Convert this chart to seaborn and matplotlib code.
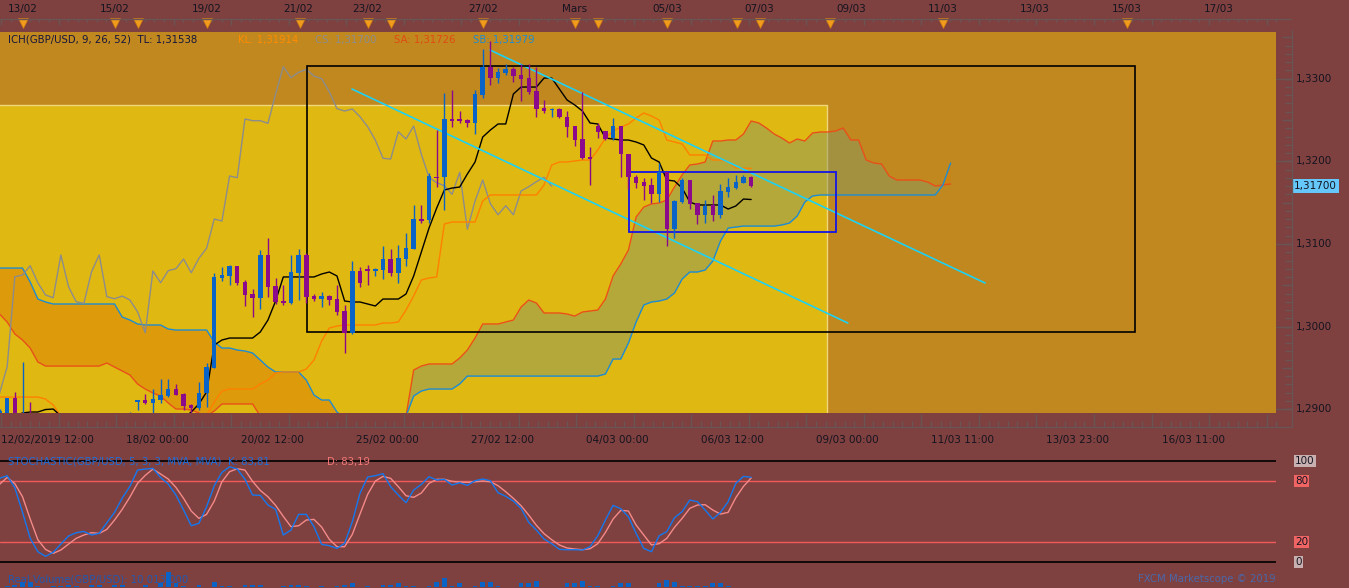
import numpy as np
import matplotlib
matplotlib.use('Agg')
import matplotlib.pyplot as plt
from matplotlib.lines import Line2D
from matplotlib.patches import Rectangle
from matplotlib.transforms import Affine2D, blended_transform_factory
import seaborn as sns

# ---------------- data (GBP/USD, 4h bars) ----------------
opens = [1.2880, 1.2890, 1.29133, 1.2886, 1.2892, 1.2884, 1.2872, 1.2866, 1.2870, 1.2874,
         1.2879, 1.2881, 1.2877, 1.2880, 1.2884, 1.2887, 1.2889, 1.2886, 1.29084, 1.29112,
         1.29072, 1.29112, 1.29164, 1.29245, 1.29185, 1.29055, 1.29019, 1.29193, 1.29503, 1.30592,
         1.30616, 1.30733, 1.30543, 1.30395, 1.30350, 1.30867, 1.30491, 1.30314, 1.30282, 1.30652,
         1.30867, 1.30370, 1.30338, 1.30370, 1.30331, 1.30189, 1.29919, 1.30673, 1.30701, 1.30677,
         1.30685, 1.30818, 1.30652, 1.30818, 1.30939, 1.31302, 1.31290, 1.31814, 1.31807, 1.32516,
         1.32516, 1.32500, 1.32460, 1.32803, 1.33145, 1.33012, 1.33065, 1.33113, 1.33045, 1.33005,
         1.32855, 1.32642, 1.32617, 1.32629, 1.32540, 1.32427, 1.32267, 1.32049, 1.32427, 1.32367,
         1.32286, 1.32427, 1.32085, 1.31810, 1.31750, 1.31714, 1.31601, 1.31867, 1.31178, 1.31511,
         1.31774, 1.31492, 1.31354, 1.31472, 1.31354, 1.31633, 1.31674, 1.31741, 1.31807]
highs = [1.2900, 1.2914, 1.29205, 1.29572, 1.29084, 1.2889, 1.2878, 1.2875, 1.2879, 1.2884,
         1.2886, 1.2885, 1.2884, 1.2888, 1.2891, 1.2893, 1.2892, 1.28965, 1.29112, 1.29181,
         1.29241, 1.29366, 1.29366, 1.29306, 1.29193, 1.29060, 1.29326, 1.29556, 1.30645, 1.30718,
         1.30749, 1.30733, 1.30564, 1.30455, 1.30927, 1.31069, 1.30585, 1.30504, 1.30867, 1.30935,
         1.30891, 1.30395, 1.30419, 1.30383, 1.30504, 1.30262, 1.30794, 1.30718, 1.30746, 1.30710,
         1.30975, 1.30939, 1.30987, 1.31136, 1.31472, 1.31472, 1.31860, 1.32379, 1.32823, 1.32863,
         1.32609, 1.32508, 1.32863, 1.33356, 1.33456, 1.33126, 1.33178, 1.33145, 1.33178, 1.33178,
         1.33145, 1.32742, 1.32642, 1.32640, 1.32609, 1.32430, 1.32836, 1.32170, 1.32460, 1.32370,
         1.32520, 1.32430, 1.32090, 1.31835, 1.31795, 1.31795, 1.31976, 1.31870, 1.31530, 1.31795,
         1.31780, 1.31500, 1.31532, 1.31593, 1.31726, 1.31795, 1.31835, 1.31835, 1.31820]
lows = [1.2875, 1.2886, 1.2884, 1.2880, 1.2878, 1.2868, 1.2860, 1.2862, 1.2866, 1.2870,
        1.2875, 1.2873, 1.2874, 1.2876, 1.2880, 1.2883, 1.2881, 1.2882, 1.28991, 1.29065,
        1.28930, 1.29079, 1.29152, 1.29170, 1.28991, 1.28930, 1.28991, 1.29031, 1.29496, 1.30556,
        1.30504, 1.30504, 1.30250, 1.30120, 1.30209, 1.30362, 1.30274, 1.30262, 1.30274, 1.30322,
        1.30282, 1.30314, 1.30240, 1.30262, 1.30140, 1.29684, 1.29907, 1.30476, 1.30504, 1.30616,
        1.30576, 1.30616, 1.30524, 1.30737, 1.30935, 1.31250, 1.31254, 1.31693, 1.31411, 1.32419,
        1.32467, 1.32412, 1.32331, 1.32763, 1.32924, 1.32951, 1.33045, 1.32963, 1.32730, 1.32810,
        1.32540, 1.32581, 1.32533, 1.32530, 1.32298, 1.32185, 1.32030, 1.31714, 1.32286, 1.32260,
        1.32258, 1.31807, 1.31662, 1.31674, 1.31532, 1.31492, 1.31511, 1.30979, 1.31069, 1.31492,
        1.31420, 1.31242, 1.31257, 1.31278, 1.31318, 1.31572, 1.31670, 1.31740, 1.31690]
closes = [1.2898, 1.29133, 1.2890, 1.2890, 1.2884, 1.2872, 1.2866, 1.2870, 1.2874, 1.2879,
          1.2881, 1.2877, 1.2880, 1.2884, 1.2887, 1.2889, 1.2886, 1.2893, 1.29112, 1.29072,
          1.29124, 1.29172, 1.29245, 1.29176, 1.29043, 1.29015, 1.29193, 1.29515, 1.30604, 1.30624,
          1.30737, 1.30531, 1.30383, 1.30350, 1.30867, 1.30483, 1.30301, 1.30282, 1.30664, 1.30867,
          1.30362, 1.30338, 1.30370, 1.30322, 1.30180, 1.29926, 1.30673, 1.30531, 1.30677, 1.30701,
          1.30818, 1.30652, 1.30827, 1.30948, 1.31302, 1.31278, 1.31823, 1.31802, 1.32512, 1.32492,
          1.32492, 1.32460, 1.32815, 1.33145, 1.33012, 1.33077, 1.33113, 1.33032, 1.33000, 1.32842,
          1.32637, 1.32609, 1.32633, 1.32540, 1.32419, 1.32258, 1.32037, 1.32028, 1.32358, 1.32270,
          1.32427, 1.32085, 1.31807, 1.31741, 1.31705, 1.31601, 1.31867, 1.31178, 1.31520, 1.31774,
          1.31487, 1.31354, 1.31463, 1.31354, 1.31641, 1.31693, 1.31754, 1.31807, 1.31700]

tenkan = [1.28870, 1.28894, 1.28918, 1.28955, 1.28967, 1.28967, 1.28997, 1.29003, 1.28918, 1.28870,
          1.28870, 1.28870, 1.28870, 1.28870, 1.28870, 1.28870, 1.28870, 1.28870, 1.28870, 1.28870,
          1.28870, 1.28870, 1.28870, 1.28870, 1.28894, 1.28967, 1.29064, 1.29209, 1.29777, 1.29838,
          1.29862, 1.29862, 1.29862, 1.29862, 1.29935, 1.30080, 1.30310, 1.30601, 1.30601, 1.30601,
          1.30601, 1.30601, 1.30637, 1.30661, 1.30613, 1.30310, 1.30298, 1.30298, 1.30274, 1.30250,
          1.30334, 1.30334, 1.30334, 1.30395, 1.30613, 1.30903, 1.31193, 1.31435, 1.31653, 1.31677,
          1.31689, 1.31847, 1.31992, 1.32294, 1.32379, 1.32452, 1.32452, 1.32815, 1.32899, 1.32899,
          1.32899, 1.33008, 1.33008, 1.32875, 1.32742, 1.32682, 1.32609, 1.32464, 1.32452, 1.32282,
          1.32270, 1.32258, 1.32258, 1.32234, 1.32198, 1.32040, 1.31992, 1.31774, 1.31762, 1.31677,
          1.31508, 1.31472, 1.31472, 1.31472, 1.31472, 1.31423, 1.31460, 1.31544, 1.31538]
kijun = [1.29148, 1.29148, 1.29148, 1.29148, 1.29148, 1.29148, 1.29124, 1.29052, 1.28918, 1.28870,
         1.28870, 1.28870, 1.28870, 1.28870, 1.28870, 1.28870, 1.28870, 1.28870, 1.28870, 1.28870,
         1.28870, 1.28870, 1.28870, 1.28870, 1.28870, 1.28870, 1.28870, 1.28918, 1.29088, 1.29221,
         1.29245, 1.29245, 1.29245, 1.29245, 1.29306, 1.29354, 1.29439, 1.29451, 1.29451, 1.29451,
         1.29487, 1.29596, 1.29826, 1.29983, 1.30007, 1.30020, 1.30020, 1.30020, 1.30020, 1.30020,
         1.30044, 1.30044, 1.30056, 1.30201, 1.30371, 1.30564, 1.30589, 1.30601, 1.31242, 1.31266,
         1.31266, 1.31266, 1.31266, 1.31520, 1.31593, 1.31593, 1.31593, 1.31593, 1.31593, 1.31593,
         1.31593, 1.31714, 1.31956, 1.31992, 1.31992, 1.32004, 1.32016, 1.32016, 1.32137, 1.32282,
         1.32367, 1.32415, 1.32452, 1.32524, 1.32585, 1.32548, 1.32500, 1.32258, 1.32234, 1.32210,
         1.32077, 1.32077, 1.32077, 1.32016, 1.32016, 1.31992, 1.31919, 1.31919, 1.31914]
# senkou spans, already shifted 26 bars ahead (125 points)
span_a = [1.30153, 1.30056, 1.29911, 1.29838, 1.29741, 1.29572, 1.29523, 1.29523, 1.29523, 1.29523,
          1.29523, 1.29523, 1.29523, 1.29523, 1.29560, 1.29511, 1.29463, 1.29415, 1.29306, 1.29245,
          1.29197, 1.29161, 1.29076, 1.29003, 1.29003, 1.28991, 1.28955, 1.28918, 1.28979, 1.29064,
          1.29064, 1.29064, 1.29064, 1.29064, 1.28918, 1.28870, 1.28870, 1.28870, 1.28870, 1.28870,
          1.28870, 1.28870, 1.28870, 1.28870, 1.28870, 1.28870, 1.28870, 1.28870, 1.28870, 1.28870,
          1.28870, 1.28870, 1.28870, 1.28918, 1.29475, 1.29523, 1.29548, 1.29548, 1.29548, 1.29548,
          1.29620, 1.29717, 1.29862, 1.30032, 1.30032, 1.30032, 1.30056, 1.30080, 1.30237, 1.30322,
          1.30286, 1.30165, 1.30165, 1.30165, 1.30153, 1.30128, 1.30177, 1.30189, 1.30201, 1.30334,
          1.30613, 1.30758, 1.30927, 1.31326, 1.31447, 1.31484, 1.31496, 1.31532, 1.31689, 1.31835,
          1.31956, 1.31968, 1.31992, 1.32246, 1.32246, 1.32258, 1.32258, 1.32331, 1.32488, 1.32464,
          1.32403, 1.32331, 1.32282, 1.32222, 1.32270, 1.32246, 1.32343, 1.32355, 1.32355, 1.32367,
          1.32403, 1.32258, 1.32258, 1.32016, 1.31980, 1.31968, 1.31822, 1.31774, 1.31774, 1.31774,
          1.31774, 1.31750, 1.31701, 1.31714, 1.31726]
span_b = [1.30709, 1.30709, 1.30709, 1.30709, 1.30540, 1.30334, 1.30298, 1.30274, 1.30274, 1.30274,
          1.30274, 1.30274, 1.30274, 1.30274, 1.30274, 1.30274, 1.30116, 1.30080, 1.30032, 1.30020,
          1.30020, 1.30020, 1.29971, 1.29959, 1.29959, 1.29959, 1.29959, 1.29959, 1.29814, 1.29741,
          1.29741, 1.29717, 1.29705, 1.29681, 1.29596, 1.29511, 1.29451, 1.29451, 1.29451, 1.29451,
          1.29354, 1.29173, 1.29112, 1.29112, 1.28967, 1.28894, 1.28846, 1.28846, 1.28846, 1.28846,
          1.28846, 1.28846, 1.28846, 1.28918, 1.29161, 1.29221, 1.29245, 1.29245, 1.29245, 1.29245,
          1.29306, 1.29402, 1.29402, 1.29402, 1.29402, 1.29402, 1.29402, 1.29402, 1.29402, 1.29402,
          1.29402, 1.29402, 1.29402, 1.29402, 1.29402, 1.29402, 1.29402, 1.29402, 1.29402, 1.29427,
          1.29608, 1.29608, 1.29802, 1.30056, 1.30262, 1.30298, 1.30310, 1.30334, 1.30407, 1.30576,
          1.30661, 1.30661, 1.30685, 1.30794, 1.31036, 1.31193, 1.31205, 1.31217, 1.31217, 1.31217,
          1.31217, 1.31217, 1.31230, 1.31254, 1.31338, 1.31508, 1.31581, 1.31593, 1.31593, 1.31593,
          1.31593, 1.31593, 1.31593, 1.31593, 1.31593, 1.31593, 1.31593, 1.31593, 1.31593, 1.31593,
          1.31593, 1.31593, 1.31593, 1.31714, 1.31979]

stoch_k = [82.8, 85.4, 73.5, 49.0, 23.2, 9.9, 5.3, 9.3, 17.5, 25.5,
           28.8, 30.1, 26.5, 28.1, 38.7, 49.0, 63.2, 74.8, 91.0, 92.0,
           92.7, 83.7, 77.1, 66.2, 51.3, 35.7, 38.1, 54.6, 75.5, 88.7,
           94.3, 92.0, 81.8, 66.2, 65.9, 56.3, 52.0, 26.5, 31.4, 47.0,
           47.0, 34.8, 17.2, 15.9, 13.2, 18.2, 39.7, 67.9, 84.1, 85.4,
           87.4, 74.5, 66.2, 58.6, 71.2, 76.8, 84.4, 81.1, 81.8, 76.1,
           78.4, 75.8, 80.4, 82.1, 80.4, 68.5, 64.9, 60.2, 53.0, 39.1,
           31.4, 22.5, 17.9, 12.2, 11.9, 11.9, 11.6, 14.9, 25.8, 41.4,
           55.9, 52.6, 44.7, 28.1, 13.2, 9.9, 25.8, 29.8, 43.7, 49.7,
           61.2, 59.6, 51.3, 42.4, 49.0, 59.6, 77.8, 84.7, 83.81]
stoch_d = [76.8, 83.7, 77.5, 64.5, 42.4, 21.8, 12.2, 8.3, 11.6, 17.5,
           23.2, 26.5, 28.8, 28.1, 32.1, 41.4, 52.0, 64.2, 77.8, 85.7,
           92.0, 87.1, 82.1, 73.8, 62.9, 50.3, 43.0, 47.0, 60.2, 79.4,
           89.4, 92.3, 91.0, 79.8, 70.8, 64.5, 55.9, 45.0, 34.8, 35.7,
           41.4, 42.0, 34.4, 22.2, 14.9, 14.9, 27.1, 47.3, 66.9, 80.1,
           84.7, 82.8, 74.5, 65.5, 63.9, 68.2, 77.8, 81.8, 81.8, 79.8,
           79.1, 78.8, 79.4, 80.1, 79.4, 75.5, 69.5, 62.9, 55.6, 46.3,
           36.1, 27.8, 21.8, 16.6, 13.6, 12.6, 11.9, 12.9, 17.9, 29.1,
           42.4, 51.0, 50.3, 36.4, 26.5, 16.6, 17.9, 23.2, 34.1, 43.0,
           53.0, 56.3, 56.6, 51.3, 47.3, 49.0, 63.6, 74.8, 83.19]
volume = [0, 1, 2, 4, 4, 1, 0, 1, 1, 2,
          1, 0, 2, 2, 0, 2, 2, 0, 0, 2,
          0, 3, 12, 3, 1, 0, 2, 0, 4, 1,
          1, 0, 2, 2, 2, 0, 0, 1, 2, 2,
          1, 0, 1, 0, 1, 2, 3, 0, 1, 0,
          2, 2, 3, 1, 1, 0, 1, 4, 7, 1,
          3, 0, 1, 4, 4, 1, 0, 0, 3, 3,
          5, 0, 0, 0, 3, 3, 5, 1, 1, 0,
          1, 3, 3, 0, 0, 0, 3, 6, 4, 1,
          1, 1, 1, 3, 3, 1, 0, 0, 0]

price_ticks = [1.29, 1.30, 1.31, 1.32, 1.33]
stoch_levels = [100, 80, 20, 0]
top_dates = ['13/02', '15/02', '19/02', '21/02', '23/02', '27/02', 'Mars',
             '05/03', '07/03', '09/03', '11/03', '13/03', '15/03', '17/03']
top_date_pos = [3, 15, 27, 39, 48, 63, 75, 87, 99, 111, 123, 135, 147, 159]
event_pos = [3.1, 15.1, 18.1, 27.1, 39.2, 48.0, 51.0, 63.0, 75.0, 78.0,
             87.0, 96.2, 99.1, 108.3, 123.0, 147.0]
bottom_dates = ['12/02/2019 12:00', '18/02 00:00', '20/02 12:00', '25/02 00:00',
                '27/02 12:00', '04/03 00:00', '06/03 12:00', '09/03 00:00',
                '11/03 11:00', '13/03 23:00', '16/03 11:00']
bottom_date_pos = [0.2, 16.5, 31.5, 46.5, 61.5, 76.5, 91.5, 106.5, 121.5, 136.5, 151.5]

# user drawings (bar index, price)
zone_x = [-2.0, 107.9]
zone_top = 1.32682
box_x = [40.1, 148.0]
box_y = [1.29931, 1.33150]
sel_x = [82.1, 109.0]
sel_y = [1.31141, 1.31867]
chan_lo_x = [45.96, 110.6]
chan_lo_y = [1.32875, 1.30044]
chan_hi_x = [63.95, 128.5]
chan_hi_y = [1.33347, 1.30528]

# ---------------- style / layout ----------------
sns.set_style('white')
plt.rcParams['font.family'] = ['DejaVu Sans']

W, H = 1349, 588
BG = '#7F4040'
TXT = '#141420'
FS = 7.3
fig = plt.figure(figsize=(W / 100, H / 100), dpi=100, facecolor=BG)
px = Affine2D().scale(1, -1).translate(0, H)   # pixel coords, origin top-left


def rect(x0, y0, x1, y1):
    return [x0 / W, 1 - y1 / H, (x1 - x0) / W, (y1 - y0) / H]


def clean(a):
    for s in a.spines.values():
        s.set_visible(False)
    a.set_xticks([])
    a.set_yticks([])
    a.set_xlabel('')
    a.set_ylabel('')


def line(a, xs, ys, color, lw=1.0, z=3):
    sns.lineplot(x=xs, y=ys, ax=a, color=color, linewidth=lw, sort=False,
                 estimator=None, legend=False, zorder=z)


def fmt(v, n=5):
    return f'{v:.{n}f}'.replace('.', ',')


xlim = (0.5 / 7.67, 1276.5 / 7.67)
ylim = (1.28955, 1.33565)

idx = np.arange(len(closes))
cidx = np.arange(len(span_a))
o, h, l, c = map(np.array, (opens, highs, lows, closes))
sa, sb = np.array(span_a), np.array(span_b)

# ---------------- main price panel ----------------
ax = fig.add_axes(rect(0, 32, 1276, 413))
ax.set_facecolor('#C0881F')

ax.add_patch(Rectangle((zone_x[0], 1.28), zone_x[1] - zone_x[0], zone_top - 1.28,
                       fc='#E0B812', ec='none', zorder=0))
ax.plot([zone_x[0], zone_x[1], zone_x[1]], [zone_top, zone_top, 1.28],
        color='#F2D67A', lw=1, zorder=0.5)

ax.fill_between(cidx, sa, sb, where=sa >= sb, interpolate=True,
                color='#8A9A62', alpha=0.5, lw=0, zorder=1)
ax.fill_between(cidx, sa, sb, where=sa < sb, interpolate=True,
                color='#DB7E06', alpha=0.5, lw=0, zorder=1)
line(ax, cidx, sa, '#E8501A')
line(ax, cidx, sb, '#1E8CD2')
line(ax, idx - 26, closes, '#8C8C8C')
line(ax, idx, kijun, '#FF8000')
line(ax, idx, tenkan, '#000000')

ax.plot(chan_lo_x, chan_lo_y, color='#1ED2F5', lw=1.2, zorder=3)
ax.plot(chan_hi_x, chan_hi_y, color='#1ED2F5', lw=1.2, zorder=3)
ax.add_patch(Rectangle((box_x[0], box_y[0]), box_x[1] - box_x[0], box_y[1] - box_y[0],
                       fill=False, ec='black', lw=1.2, zorder=3))
ax.add_patch(Rectangle((sel_x[0], sel_y[0]), sel_x[1] - sel_x[0], sel_y[1] - sel_y[0],
                       fill=False, ec='#1414E6', lw=1.3, zorder=3))

up = c >= o
cols = np.where(up, '#0A64C8', '#8B0A8B')
ax.vlines(idx, l, h, colors=cols, lw=1, zorder=4)
body_lo = np.minimum(o, c)
body_h = np.maximum(np.abs(c - o), 0.00009)
ax.bar(idx, body_h, bottom=body_lo, width=0.58, color=cols, lw=0, zorder=5)

ax.set_xlim(xlim)
ax.set_ylim(ylim)
clean(ax)

tx = blended_transform_factory(ax.transData, px)   # x: bar, y: pixel
ty = blended_transform_factory(px, ax.transData)   # x: pixel, y: price
GRID = '#6A5454'

# top date strip
fig.add_artist(Line2D([0, 1291], [19, 19], transform=px, color=GRID, lw=1))
minor = np.arange(0.2, 167, 1.25)
major = np.arange(0.2, 167, 7.5)
ax.vlines(minor, 19, 22, transform=tx, colors=GRID, lw=1, clip_on=False)
ax.vlines(major, 19, 25, transform=tx, colors=GRID, lw=1, clip_on=False)
for pos, lab in zip(top_date_pos, top_dates):
    ax.text(pos, 9, lab, transform=tx, ha='center', va='center', fontsize=7.5,
            color=TXT, clip_on=False)
ax.plot(event_pos, [22.5] * len(event_pos), linestyle='none', marker='v', ms=7,
        color='#F29C1C', mec='#D07A10', mew=0.5, transform=tx, clip_on=False)

# bottom time axis
fig.add_artist(Line2D([0, 1291], [427, 427], transform=px, color=GRID, lw=1))
ax.vlines(minor, 421, 427, transform=tx, colors=GRID, lw=1, clip_on=False)
ax.vlines(major, 414, 427, transform=tx, colors=GRID, lw=1, clip_on=False)
for pos, lab in zip(bottom_date_pos, bottom_dates):
    ax.text(pos, 440, lab, transform=tx, ha='left', va='center', fontsize=7.5,
            color=TXT, clip_on=False)

# right price axis
fig.add_artist(Line2D([1291.5, 1291.5], [30, 427], transform=px, color=GRID, lw=1))
pt = np.round(np.arange(1.290, 1.3357, 0.001), 3)
ax.hlines(pt, 1285, 1291.5, transform=ty, colors=GRID, lw=1, clip_on=False)
ax.hlines(pt[::5], 1282, 1291.5, transform=ty, colors=GRID, lw=1, clip_on=False)
ax.hlines(price_ticks, 1276, 1291.5, transform=ty, colors=GRID, lw=1, clip_on=False)
for v in price_ticks:
    ax.text(1296, v, fmt(v, 4), transform=ty, ha='left', va='center', fontsize=7.5,
            color=TXT, clip_on=False)
ax.text(1294, closes[-1], fmt(closes[-1]), transform=ty, ha='left', va='center',
        fontsize=7.5, color=TXT, clip_on=False,
        bbox=dict(boxstyle='square,pad=0.2', fc='#66C8FA', ec='none'))

# indicator legend
legend_parts = [(8, f'ICH(GBP/USD, 9, 26, 52)  TL: {fmt(tenkan[-1])}', '#14143C'),
                (238, f'KL: {fmt(kijun[-1])}', '#FF8C00'),
                (315, f'CS: {fmt(closes[-1])}', '#8C8C8C'),
                (394, f'SA: {fmt(span_a[-1])}', '#E04A14'),
                (473, f'SB: {fmt(span_b[-1])}', '#1E8CD2')]
for x0, s, col in legend_parts:
    fig.text(x0, 40, s, transform=px, ha='left', va='center', fontsize=FS, color=col)

# ---------------- stochastic panel ----------------
ax_st = fig.add_axes(rect(0, 455, 1276, 568))
ax_st.patch.set_alpha(0)
ax_st.axhline(100, color='black', lw=1.2, zorder=1)
ax_st.axhline(0, color='black', lw=1.2, zorder=1)
ax_st.axhline(80, color='#F25A5A', lw=1, zorder=1)
ax_st.axhline(20, color='#F25A5A', lw=1, zorder=1)
line(ax_st, idx, stoch_d, '#F48A8A')
line(ax_st, idx, stoch_k, '#1478F0')
ax_st.set_xlim(xlim)
ax_st.set_ylim(-6.26, 105.96)
clean(ax_st)
ts = blended_transform_factory(px, ax_st.transData)
for lvl in stoch_levels:
    fc = '#F06464' if lvl in (80, 20) else '#C8B0B0'
    ax_st.text(1295, lvl, str(lvl), transform=ts, ha='left', va='center', fontsize=7.5,
               color=TXT, clip_on=False,
               bbox=dict(boxstyle='square,pad=0.1', fc=fc, ec='none'))
fig.text(8, 462, f'STOCHASTIC(GBP/USD, 5, 3, 3, MVA, MVA)  K: {fmt(stoch_k[-1], 2)}',
         transform=px, ha='left', va='center', fontsize=FS, color='#1E6EDC')
fig.text(327, 462, f'D: {fmt(stoch_d[-1], 2)}', transform=px, ha='left', va='center',
         fontsize=FS, color='#F47878')

# ---------------- volume strip ----------------
ax_v = fig.add_axes(rect(0, 566, 1276, 588))
ax_v.patch.set_alpha(0)
ax_v.bar(idx, volume, width=0.62, color='#0A64C8', lw=0)
ax_v.set_xlim(xlim)
ax_v.set_ylim(-0.8, 16.8)
clean(ax_v)
fig.text(8, 579, 'Real Volume(GBP/USD): 10 013 000', transform=px, ha='left',
         va='center', fontsize=FS, color='#2058B0')
fig.text(1276, 579, 'FXCM Marketscope © 2019', transform=px, ha='right',
         va='center', fontsize=FS, color='#4A68A8')

fig.savefig('out.png', dpi=100, facecolor=BG)
